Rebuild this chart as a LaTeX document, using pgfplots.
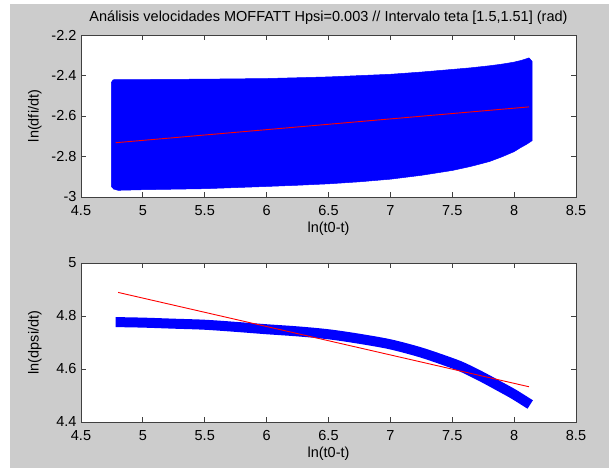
\documentclass[border=0pt]{standalone}
\usepackage{fontspec}
\setmainfont{Liberation Sans}
\usepackage{pgfplots}
\pgfplotsset{compat=1.18}

\definecolor{figgray}{RGB}{204,204,204}
\definecolor{mblue}{RGB}{0,0,255}
\definecolor{mred}{RGB}{255,0,0}

\pgfplotsset{
  matlab/.style={
    scale only axis,
    anchor=south west,
    width=495bp,
    xmin=4.5, xmax=8.5,
    xtick={4.5,5,5.5,6,6.5,7,7.5,8,8.5},
    xticklabels={4.5,5,5.5,6,6.5,7,7.5,8,8.5},
    tick align=inside,
    major tick length=5bp,
    axis line style={black!75, line width=0.9bp},
    tick style={black!75, line width=0.8bp},
    axis background/.style={fill=white},
    xticklabel style={anchor=base, yshift=-19bp},
    yticklabel style={anchor=east, xshift=-1bp},
    every axis x label/.style={at={(axis description cs:0.5,0)}, anchor=center, yshift=-32bp},
    every axis y label/.style={at={(axis description cs:-0.093,0.5)}, anchor=center, rotate=90},
    every axis title/.style={at={(axis description cs:0.5,1)}, anchor=center, yshift=17bp},
    xlabel={ln(t0-t)},
  }
}

\begin{document}
\begin{tikzpicture}[font=\fontsize{14.5bp}{17bp}\selectfont]
\fill[white] (0,0) rectangle (609bp,468bp);
\fill[figgray] (10bp,0) rectangle (609bp,464bp);

% upper panel
\begin{axis}[matlab,
  at={(81bp,271bp)},
  height=162bp,
  ymin=-3, ymax=-2.2,
  ytick={-3,-2.8,-2.6,-2.4,-2.2},
  yticklabels={-3,-2.8,-2.6,-2.4,-2.2},
  ylabel={ln(dfi/dt)},
  title={Análisis velocidades MOFFATT Hpsi=0.003 // Intervalo teta [1.5,1.51] (rad)},
]
\addplot[fill=mblue, draw=mblue, line width=0.5bp] coordinates {
  (4.745,-2.950) (4.745,-2.435) (4.760,-2.421) (5.0,-2.420) (5.5,-2.418)
  (6.0,-2.415) (6.5,-2.407) (7.0,-2.394) (7.25,-2.383) (7.5,-2.370)
  (7.65,-2.362) (7.8,-2.352) (7.9,-2.344) (8.0,-2.334) (8.06,-2.325)
  (8.12,-2.313) (8.145,-2.330) (8.145,-2.722)
  (8.1,-2.740) (8.05,-2.757) (8.0,-2.776) (7.9,-2.802) (7.8,-2.825)
  (7.65,-2.849) (7.5,-2.869) (7.25,-2.893) (7.0,-2.912) (6.75,-2.925)
  (6.5,-2.935) (6.25,-2.942) (6.0,-2.948) (5.5,-2.959) (5.0,-2.964)
  (4.8,-2.967) (4.760,-2.960)
};
\addplot[mred, line width=0.9bp] coordinates {
  (4.78,-2.732) (8.12,-2.555)
};
\end{axis}

% lower panel
\begin{axis}[matlab,
  at={(81bp,46bp)},
  height=159bp,
  ymin=4.4, ymax=5,
  ytick={4.4,4.6,4.8,5},
  yticklabels={4.4,4.6,4.8,5},
  ylabel={ln(dpsi/dt)},
]
\addplot[mblue, line width=10bp, line cap=butt, line join=round, smooth] coordinates {
  (4.78,4.777) (5.0,4.775) (5.25,4.771) (5.5,4.767) (5.75,4.759)
  (6.0,4.750) (6.25,4.742) (6.5,4.731) (6.75,4.714) (7.0,4.693)
  (7.25,4.662) (7.5,4.622) (7.6,4.603) (7.75,4.568) (7.9,4.530)
  (8.0,4.504) (8.13,4.466)
};
\addplot[mred, line width=0.9bp] coordinates {
  (4.80,4.889) (8.12,4.533)
};
\end{axis}

\pgfresetboundingbox
\path (0,0) rectangle (609bp,468bp);
\end{tikzpicture}
\end{document}
